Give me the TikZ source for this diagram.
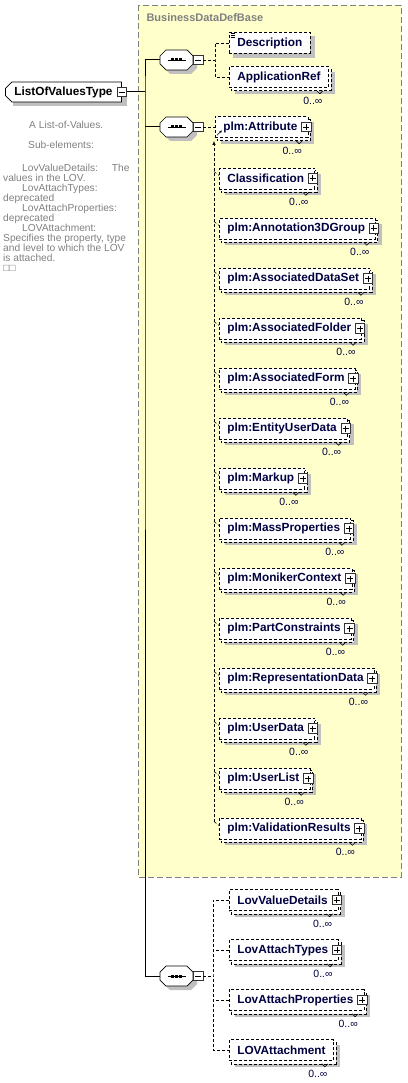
\documentclass[tikz,border=0pt]{standalone}
\usepackage{fontspec}
\setmainfont{Liberation Sans}
\usetikzlibrary{calc,positioning,arrows.meta,shapes.misc}
\definecolor{boxyellow}{RGB}{255,255,204}
\definecolor{namenavy}{RGB}{0,0,64}
\definecolor{docgray}{RGB}{128,128,128}
\definecolor{shadegray}{RGB}{192,192,192}
\pgfdeclarelayer{bg}
\pgfdeclarelayer{shade}
\pgfsetlayers{bg,shade,main}
\tikzset{
    link/.style={line width=1pt, black},
    sublink/.style={line width=0.6pt, black, densely dashed},
    elem/.style={draw=black, line width=0.6pt, densely dashed, fill=white, text=namenavy,
        font=\fontsize{11.8}{13}\selectfont\bfseries, inner xsep=8pt, inner ysep=0pt,
        minimum height=21pt, anchor=west},
    elemback/.style={draw=black, line width=0.6pt, densely dashed, fill=white},
    rootelem/.style={chamfered rectangle, chamfered rectangle corners={north west,south west},
        chamfered rectangle xsep=3pt, draw=black, line width=0.8pt, fill=white,
        font=\fontsize{11.8}{13}\selectfont\bfseries, inner xsep=6pt, inner ysep=0pt,
        minimum height=20pt, anchor=west},
    icon/.style={draw=black!80, line width=0.6pt, fill=white, solid, minimum size=9.5pt, inner sep=0pt},
    iconline/.style={line width=0.7pt, black, solid},
    mult/.style={text=namenavy, font=\fontsize{10.5}{12}\selectfont, inner sep=0pt},
    notch/.style={line width=0.6pt, black, solid},
    compo/.style={minimum width=33pt, minimum height=20pt, inner sep=0pt},
    octa/.style={draw=black, line width=0.7pt, fill=white},
    doc/.style={anchor=north west, align=left, inner sep=0pt, text=docgray,
        font=\fontsize{10.2}{10}\selectfont}
}

\begin{document}
\begin{tikzpicture}[x=1pt,y=-1pt]
    \useasboundingbox (0,0) rectangle (407,1083);
    % base type frame
    \begin{pgfonlayer}{bg}
        \fill[boxyellow] (138,5) rectangle (401,877);
        \draw[docgray, line width=0.8pt, dash pattern=on 6pt off 3pt] (138,5) rectangle (401,877);
    \end{pgfonlayer}
    \node[anchor=west, text=docgray, font=\fontsize{11}{13}\selectfont\bfseries] (basetitle) at (143,18) {BusinessDataDefBase};

    % root element
    \node[rootelem] (root) at (5,92) {ListOfValuesType};
    \begin{pgfonlayer}{shade}
        \fill[shadegray] ($(root.north west)+(5,4)$) rectangle ($(root.south east)+(5,4)$);
    \end{pgfonlayer}
    \node[icon] (root-min) at (root.east) {};
    \draw[iconline] ($(root-min.center)+(-3,0)$) -- ++(6,0);

    \node[doc] (rootdoc) at (3,121) {\hspace*{26pt}A List-of-Values.\\[10pt]
        \hspace*{25pt}Sub-elements:\\[13pt]
        \hspace*{19pt}LovValueDetails:\hspace{14pt}The\\
        values in the LOV.\\
        \hspace*{19pt}LovAttachTypes:\\
        deprecated\\
        \hspace*{19pt}LovAttachProperties:\\
        deprecated\\
        \hspace*{19pt}LOVAttachment:\\
        Specifies the property, type\\
        and level to which the LOV\\
        is attached.\\
        □□};

    % sequence compositors
    \foreach \nm/\yy in {seqa/60, seqb/127, seqc/976}{
        \node[compo] (\nm) at (176.5,\yy) {};
        \begin{pgfonlayer}{shade}
            \fill[shadegray, shift={($(\nm)+(4,4)$)}] (-16.5,-4) -- (-10.5,-10) -- (10.5,-10) -- (16.5,-4)
                -- (16.5,4) -- (10.5,10) -- (-10.5,10) -- (-16.5,4) -- cycle;
        \end{pgfonlayer}
        \draw[octa, shift={(\nm)}] (-16.5,-4) -- (-10.5,-10) -- (10.5,-10) -- (16.5,-4)
            -- (16.5,4) -- (10.5,10) -- (-10.5,10) -- (-16.5,4) -- cycle;
        \draw[line width=0.8pt] ($(\nm)+(-9,0)$) -- ($(\nm)+(9,0)$);
        \foreach \dx in {-4,0,4}
            \fill ($(\nm)+(\dx,0)$) +(-1.5,-1.5) rectangle +(1.5,1.5);
        \node[icon] (\nm-min) at ($(\nm.east)+(5,0)$) {};
        \draw[iconline] ($(\nm-min.center)+(-3,0)$) -- ++(6,0);
    }

    % single element
    \node[elem] (desc) at (229,43) {Description};
    \begin{pgfonlayer}{shade}
        \fill[shadegray] ($(desc.north west)+(4,4)$) rectangle ($(desc.south east)+(4,4)$);
    \end{pgfonlayer}
    \foreach \dy in {1.5,3.5,5.5}
        \draw[line width=0.5pt] ($(desc.north west)+(1.5,\dy)$) -- ++(4,0);

    % repeated elements
    \foreach \nm/\tx/\xx/\yy/\pl in {
        appref/ApplicationRef/229/77/0,
        attr/plm:Attribute/215/127/1,
        classif/Classification/219/178.5/1,
        annot/plm:Annotation3DGroup/219/228.5/1,
        dataset/plm:AssociatedDataSet/219/278.5/1,
        folder/plm:AssociatedFolder/219/328.5/1,
        form/plm:AssociatedForm/219/378.5/1,
        entity/plm:EntityUserData/219/428.5/1,
        markup/plm:Markup/219/478.5/1,
        mass/plm:MassProperties/219/528.5/1,
        moniker/plm:MonikerContext/219/578.5/1,
        partcon/plm:PartConstraints/219/628.5/1,
        repdata/plm:RepresentationData/219/678.5/1,
        udata/plm:UserData/219/728.5/1,
        ulist/plm:UserList/219/778.5/1,
        valid/plm:ValidationResults/219/828.5/1,
        lovval/LovValueDetails/229/900/1,
        lovtyp/LovAttachTypes/229/950/1,
        lovprop/LovAttachProperties/229/1000/1,
        lovatt/LOVAttachment/229/1050/0}{
        \node[elem] (\nm) at (\xx,\yy) {\tx\ifnum\pl=1 \rule{2.5pt}{0pt}\fi};
        \begin{pgfonlayer}{shade}
            \fill[shadegray] ($(\nm.north west)+(6,6)$) rectangle ($(\nm.south east)+(6,6)$);
            \draw[elemback] ($(\nm.north west)+(2,3)$) rectangle ($(\nm.south east)+(2,3)$);
        \end{pgfonlayer}
        \draw[notch] ($(\nm.south east)+(-12,3)$) -- ++(3,3) -- ++(3,-3);
        \node[mult] (\nm-m) at ($(\nm.south east)+(-16,13)$) {0..∞};
        \ifnum\pl=1
            \node[icon] (\nm-p) at ($(\nm.east)+(-2,0)$) {};
            \draw[iconline] ($(\nm-p.center)+(-3,0)$) -- ++(6,0)
                ($(\nm-p.center)+(0,-3)$) -- ++(0,6);
        \fi
    }

    % solid model links
    \coordinate (trunk) at (145,92);
    \draw[link] (root-min.east) -- (trunk);
    \draw[link] (seqa.west) -| (trunk) |- (seqc.west);
    \draw[link] (seqb.west) -- (seqb.west -| trunk);

    % first sequence
    \coordinate (forka) at (215,60);
    \draw[sublink] (seqa-min.east) -- (forka);
    \draw[sublink] (desc.west) -| (forka) |- (appref.west);

    % second sequence with substitution group
    \draw[sublink] (seqb-min.east) -- (attr.west);
    \coordinate (subtop) at (214,141);
    \draw[sublink, -{Latex[length=4pt,width=3.5pt]}] ($(valid.west)+(-5,-7)$) -- (subtop);
    \foreach \nm in {classif,annot,dataset,folder,form,entity,markup,mass,moniker,partcon,repdata,udata,ulist,valid}
        \draw[sublink] ($(\nm.west)+(-5,-7)$) -- ($(\nm.west)+(0,-3)$);
    \draw[-{Latex[length=2.5pt,width=2.5pt]}, line width=0.6pt] ($(attr.south west)+(2,-2.5)$) -- ++(5,-5);

    % third sequence
    \coordinate (forkc) at (213,976);
    \draw[sublink] (seqc-min.east) -- (forkc);
    \draw[sublink] (lovval.west) -| (forkc) |- (lovatt.west);
    \draw[sublink] (lovtyp.west) -- (lovtyp.west -| forkc);
    \draw[sublink] (lovprop.west) -- (lovprop.west -| forkc);
\end{tikzpicture}
\end{document}
